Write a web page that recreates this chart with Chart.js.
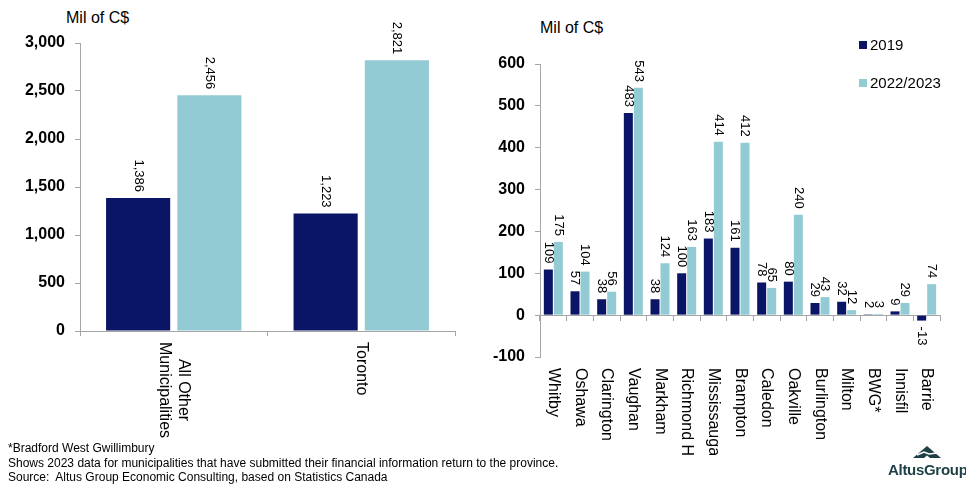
<!DOCTYPE html>
<html>
<head>
<meta charset="utf-8">
<script src="https://cdn.jsdelivr.net/npm/chart.js@4/dist/chart.umd.min.js"></script>
<style>
body { margin: 0; width: 966px; height: 486px; background: #fff; position: relative; overflow: hidden; font-family: "Liberation Sans", Arial, sans-serif; color: #000; }
#leftBox { position: absolute; left: 0; top: 0; width: 470px; height: 440px; }
#rightBox { position: absolute; left: 480px; top: 0; width: 486px; height: 455px; }
.unit { position: absolute; font-size: 16px; }
.legend { position: absolute; left: 859px; font-size: 15px; line-height: 16px; }
.legend span { display: inline-block; width: 8px; height: 8px; margin-right: 3px; vertical-align: 1px; }
.foot { position: absolute; left: 8px; top: 441px; font-size: 12px; line-height: 14.5px; }
.logo { position: absolute; left: 888px; top: 445px; width: 78px; text-align: center; color: #1d3f45; font-size: 15px; font-weight: bold; letter-spacing: -0.3px; }
</style>
</head>
<body>
<div class="unit" style="left:66px; top:9px;">Mil of C$</div>
<div class="unit" style="left:540px; top:19px;">Mil of C$</div>
<div id="leftBox"><canvas id="totalChart"></canvas></div>
<div id="rightBox"><canvas id="cityChart"></canvas></div>
<div class="legend" style="top:37px;"><span style="background:#0b1565"></span>2019</div>
<div class="legend" style="top:75px;"><span style="background:#92cbd3"></span>2022/2023</div>
<div class="foot">*Bradford West Gwillimbury<br>Shows 2023 data for municipalities that have submitted their financial information return to the province.<br>Source:&nbsp; Altus Group Economic Consulting, based on Statistics Canada</div>
<div class="logo">
  <svg width="30" height="14" viewBox="0 0 30 14" style="display:block; margin:0 auto 2px auto;">
    <polygon points="1,13 15,1 29,13" fill="#1d3f45"/>
    <polyline points="5,10 12,7 17,9 25,8" stroke="#fff" stroke-width="1.6" fill="none"/>
    <polygon points="12,13 15,10.5 18,13" fill="#fff"/>
  </svg>
  AltusGroup
</div>

<script>
// left panel
const totalCategories = [["All Other", "Municipalities"], "Toronto"];
const total2019 = [1386, 1223];
const total2023 = [2456, 2821];

// right panel
const cityNames = ["Whitby", "Oshawa", "Clarington", "Vaughan", "Markham", "Richmond Hill", "Mississauga",
  "Brampton", "Caledon", "Oakville", "Burlington", "Milton", "BWG*", "Innisfil", "Barrie"];
const city2019 = [109, 57, 38, 483, 38, 100, 183, 161, 78, 80, 29, 32, 2, 9, -13];
const city2023 = [175, 104, 56, 543, 124, 163, 414, 412, 65, 240, 43, 12, 3, 29, 74];

const seriesNames = ["2019", "2022/2023"];
const navy = '#0b1565';
const teal = '#92cbd3';
const axisGray = '#a6a6a6';

Chart.defaults.font.family = '"Liberation Sans", Arial, sans-serif';
Chart.defaults.color = '#000';

// value labels, rotated, sitting on the bar ends
const barLabels = {
    id: 'barLabels',
    afterDatasetsDraw(chart) {
        let ctx = chart.ctx;
        ctx.save();
        ctx.font = '13px "Liberation Sans", Arial';
        ctx.fillStyle = '#000';
        ctx.textBaseline = 'middle';
        chart.data.datasets.forEach((ds, i) => {
            chart.getDatasetMeta(i).data.forEach((bar, j) => {
                let v = ds.data[j];
                ctx.save();
                if (v >= 0) {
                    ctx.translate(bar.x, bar.y - 6);
                    ctx.textAlign = 'right';
                } else {
                    ctx.translate(bar.x, bar.y + 6);
                    ctx.textAlign = 'left';
                }
                ctx.rotate(Math.PI / 2);
                ctx.fillText(v.toLocaleString('en-US'), 0, 0);
                ctx.restore();
            });
        });
        ctx.restore();
    }
};

// category names, turned to read top-down
const catLabels = {
    id: 'catLabels',
    afterDraw(chart) {
        let ctx = chart.ctx;
        let xs = chart.scales.x;
        let top = chart.chartArea.bottom + 11;
        ctx.save();
        ctx.font = '16px "Liberation Sans", Arial';
        ctx.fillStyle = '#000';
        ctx.textAlign = 'left';
        ctx.textBaseline = 'middle';
        chart.data.labels.forEach((lab, i) => {
            let lines = [].concat(lab);
            let widths = lines.map(l => ctx.measureText(l).width);
            let maxW = Math.max(...widths);
            ctx.save();
            ctx.translate(xs.getPixelForValue(i), top);
            ctx.rotate(Math.PI / 2);
            lines.forEach((ln, k) => {
                ctx.fillText(ln, (maxW - widths[k]) / 2, (k - (lines.length - 1) / 2) * 19);
            });
            ctx.restore();
        });
        ctx.restore();
    }
};

function makeChart(id, labels, d1, d2, opts) {
    return new Chart(document.getElementById(id), {
        type: 'bar',
        data: {
            labels: labels,
            datasets: [
                { label: seriesNames[0], data: d1, backgroundColor: navy },
                { label: seriesNames[1], data: d2, backgroundColor: teal }
            ]
        },
        options: {
            responsive: true,
            maintainAspectRatio: false,
            animation: false,
            layout: { padding: opts.padding },
            datasets: { bar: { categoryPercentage: opts.catPct, barPercentage: 0.9 } },
            plugins: { legend: { display: false }, tooltip: { enabled: false } },
            scales: {
                x: {
                    position: opts.xPos,
                    grid: { drawOnChartArea: false, drawTicks: true, tickLength: 5, color: axisGray },
                    border: { color: axisGray },
                    ticks: { display: false },
                    afterFit: s => { s.height = opts.xHeight; }
                },
                y: {
                    min: opts.min,
                    max: opts.max,
                    grid: { drawOnChartArea: false, drawTicks: true, tickLength: 5, color: axisGray },
                    border: { color: axisGray },
                    ticks: {
                        stepSize: opts.step,
                        padding: 10,
                        font: { size: 16, weight: 'bold' },
                        callback: v => v.toLocaleString('en-US')
                    },
                    afterFit: s => { s.width = opts.yWidth; }
                }
            }
        },
        plugins: [barLabels, catLabels]
    });
}

makeChart('totalChart', totalCategories, total2019, total2023, {
    padding: { top: 43, right: 15, bottom: 0, left: 0 },
    catPct: 0.76, xPos: 'bottom', xHeight: 109, yWidth: 80,
    min: 0, max: 3000, step: 500
});

makeChart('cityChart', cityNames, city2019, city2023, {
    padding: { top: 64, right: 26, bottom: 98, left: 0 },
    catPct: 0.75, xPos: { y: 0 }, xHeight: 10, yWidth: 60,
    min: -100, max: 600, step: 100
});
</script>
</body>
</html>
